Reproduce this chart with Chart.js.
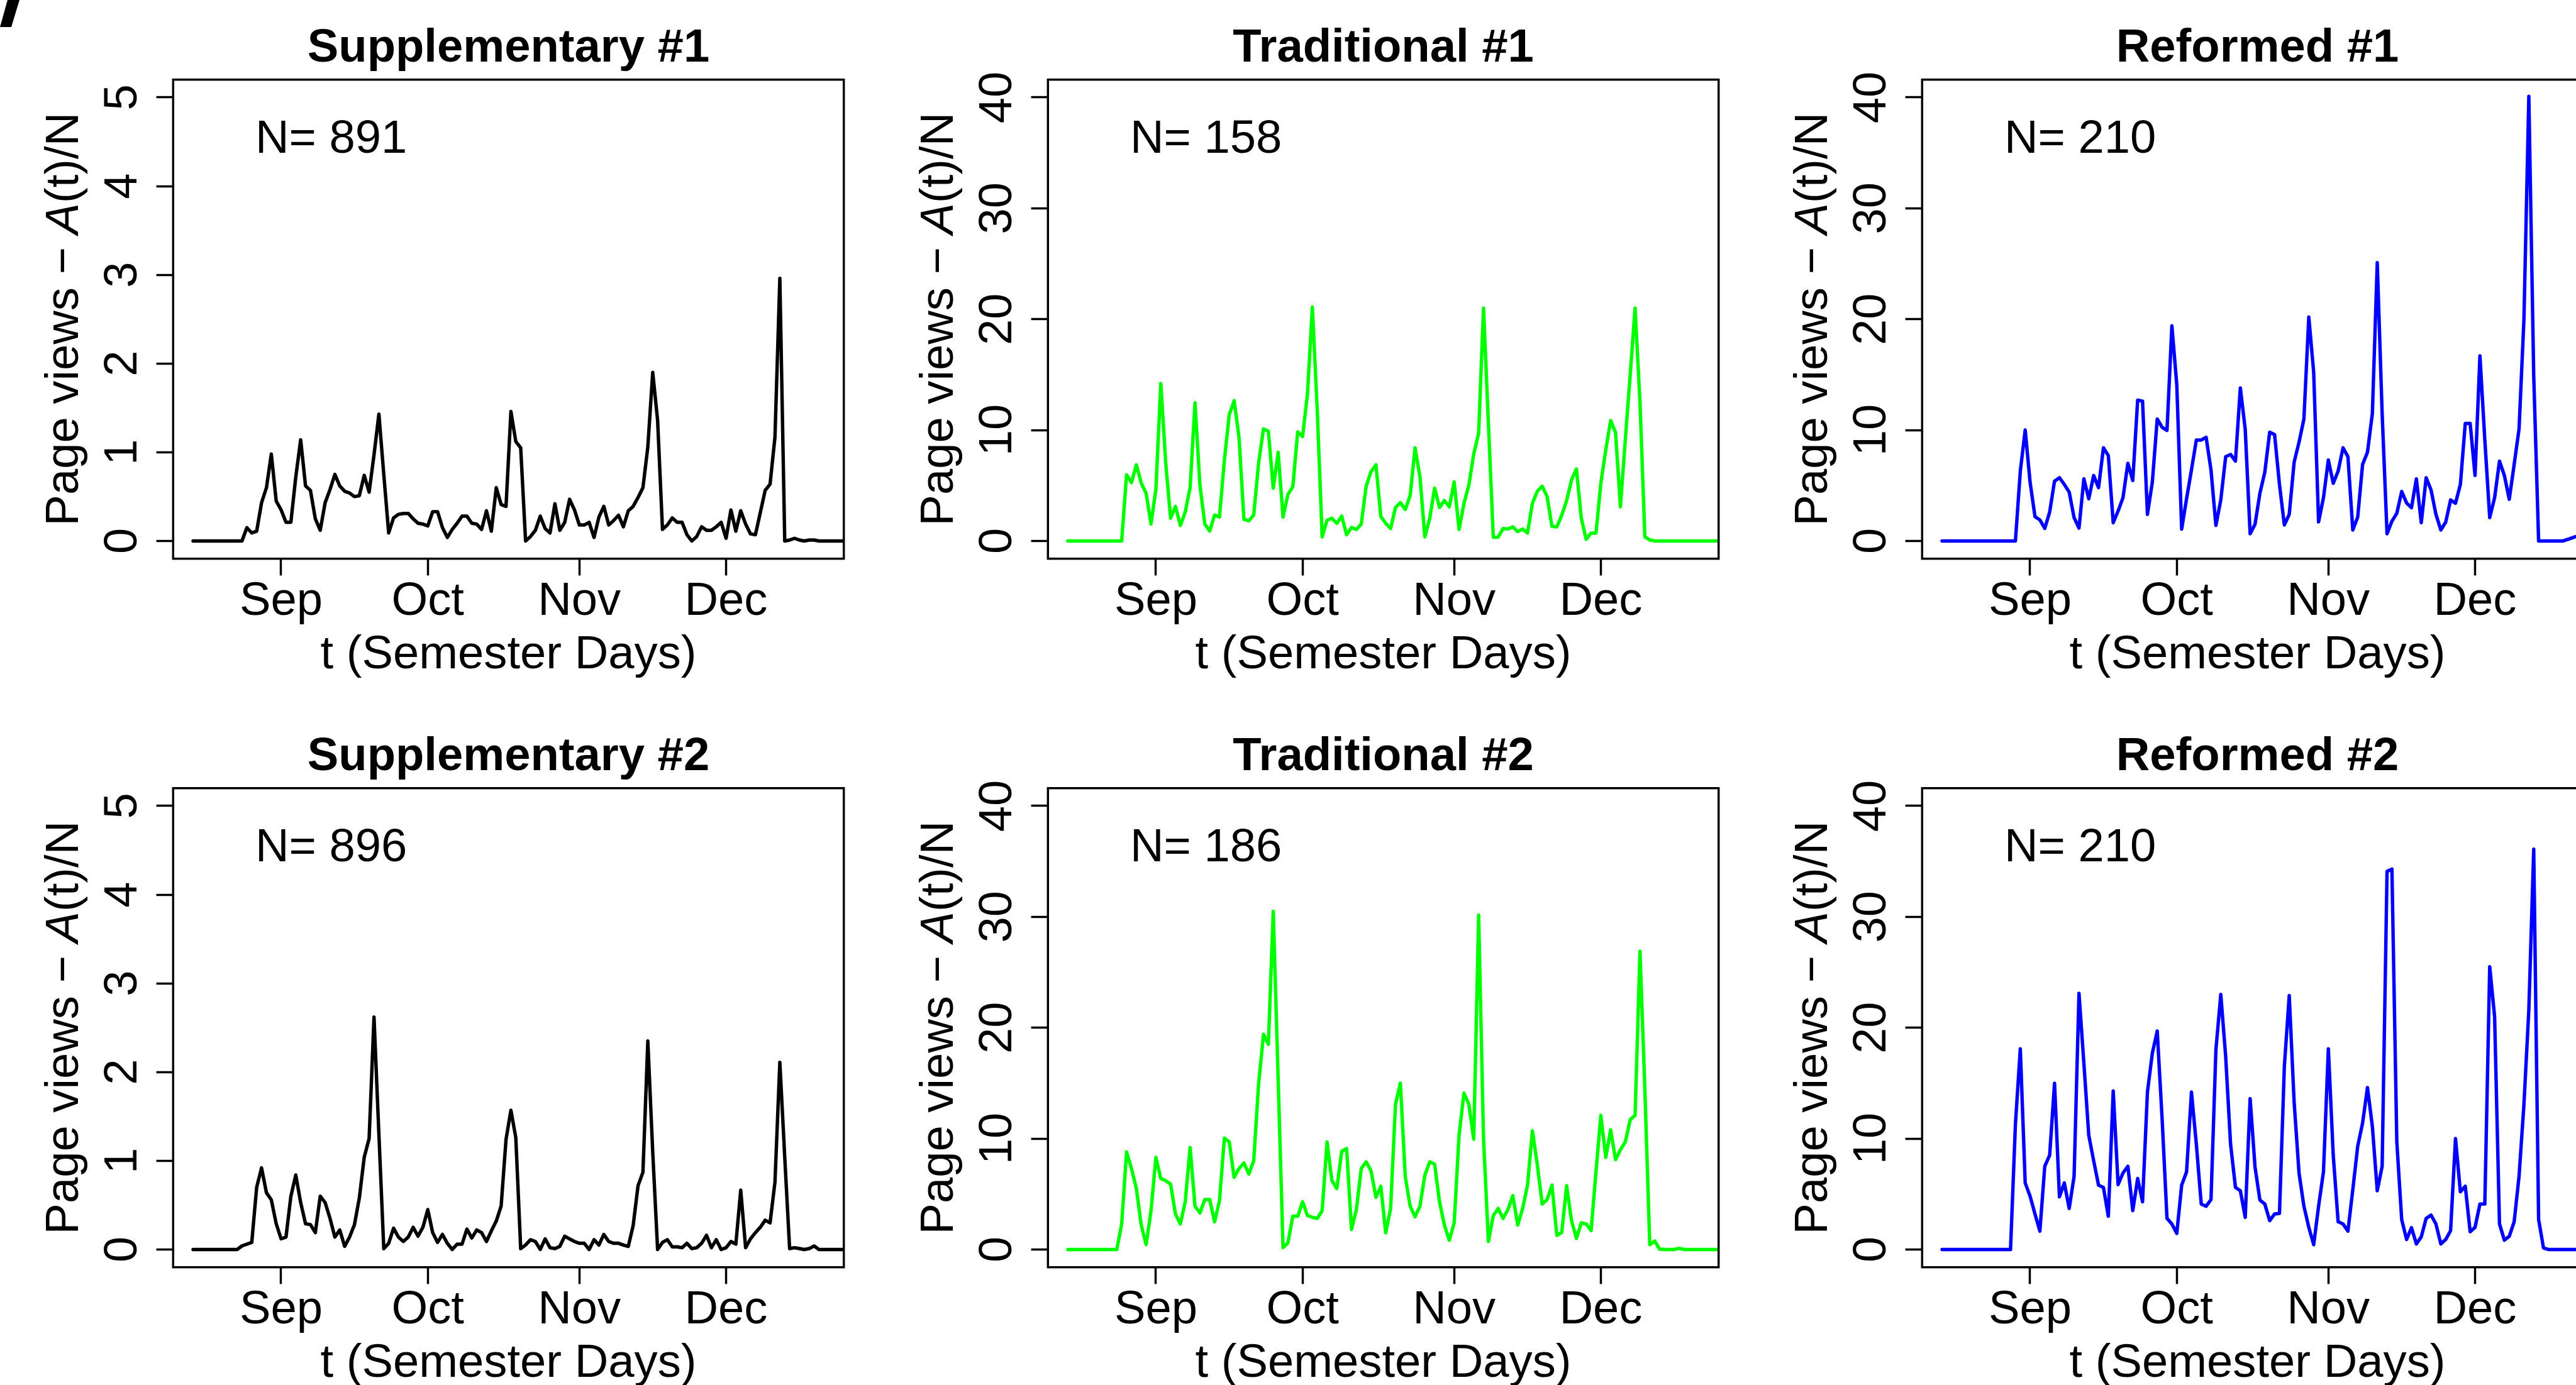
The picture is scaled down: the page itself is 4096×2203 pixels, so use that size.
<!DOCTYPE html>
<html>
<head>
<meta charset="utf-8">
<script src="https://cdn.jsdelivr.net/npm/chart.js@4.4.0/dist/chart.umd.min.js"></script>
<style>
  html, body { margin: 0; padding: 0; background: #fff; overflow: hidden; }
  body { width: 4096px; height: 2203px; position: relative; }
  canvas { position: absolute; }
  #corner { position: absolute; left: 0; top: 0; width: 32px; height: 43px; background: #000;
            clip-path: polygon(12px 0, 31px 0, 18px 43px, 0 43px); }
</style>
</head>
<body>
<div id="corner"></div>
<canvas id="p0"></canvas>
<canvas id="p1"></canvas>
<canvas id="p2"></canvas>
<canvas id="p3"></canvas>
<canvas id="p4"></canvas>
<canvas id="p5"></canvas>
<script>
// days counted from 1 Sep; first value is 14 Aug
const firstDay = -18;
const monthTicks = [0, 30, 61, 91];
const monthLabels = ['Sep', 'Oct', 'Nov', 'Dec'];
const ticksSmall = [0, 1, 2, 3, 4, 5];
const ticksLarge = [0, 10, 20, 30, 40];

const titles = ['Supplementary #1', 'Traditional #1', 'Reformed #1',
                'Supplementary #2', 'Traditional #2', 'Reformed #2'];
const nStudents = [891, 158, 210, 896, 186, 210];

const supp1 = [
  0, 0, 0, 0, 0, 0, 0, 0, 0, 0,
  0, 0.15, 0.09, 0.11, 0.43, 0.60, 0.98, 0.45, 0.35, 0.21,
  0.21, 0.72, 1.14, 0.62, 0.57, 0.25, 0.12, 0.43, 0.58, 0.75,
  0.62, 0.56, 0.54, 0.50, 0.51, 0.74, 0.55, 0.97, 1.43, 0.75,
  0.09, 0.26, 0.30, 0.31, 0.31, 0.25, 0.20, 0.19, 0.17, 0.33,
  0.33, 0.15, 0.04, 0.13, 0.20, 0.28, 0.28, 0.20, 0.19, 0.13,
  0.34, 0.11, 0.60, 0.41, 0.39, 1.46, 1.12, 1.05, 0, 0.05,
  0.12, 0.28, 0.14, 0.09, 0.42, 0.12, 0.21, 0.47, 0.35, 0.18,
  0.18, 0.21, 0.04, 0.27, 0.39, 0.18, 0.23, 0.29, 0.16, 0.34,
  0.39, 0.49, 0.60, 1.06, 1.90, 1.36, 0.13, 0.18, 0.26, 0.21,
  0.21, 0.07, 0, 0.05, 0.16, 0.12, 0.12, 0.16, 0.21, 0.03,
  0.35, 0.11, 0.34, 0.19, 0.08, 0.07, 0.32, 0.57, 0.64, 1.17,
  2.96, 0, 0.01, 0.03, 0.01, 0, 0.01, 0.01, 0, 0,
  0, 0, 0, 0, 0
];

const trad1 = [
  0, 0, 0, 0, 0, 0, 0, 0, 0, 0,
  0, 0, 5.97, 5.26, 6.87, 5.22, 4.29, 1.53, 4.66, 14.2,
  7.09, 2.05, 3.12, 1.40, 2.61, 4.85, 12.46, 5.04, 1.53, 0.90,
  2.33, 2.15, 7.28, 11.38, 12.65, 9.33, 1.96, 1.81, 2.33, 7.0,
  10.11, 9.89, 4.76, 7.99, 2.15, 4.20, 4.89, 9.83, 9.42, 13.25,
  21.1, 11.75, 0.37, 1.87, 2.05, 1.59, 2.24, 0.56, 1.21, 1.03,
  1.53, 4.94, 6.25, 6.87, 2.20, 1.59, 1.12, 3.02, 3.45, 2.84,
  4.10, 8.40, 5.78, 0.37, 2.05, 4.76, 3.02, 3.64, 3.08, 5.32,
  1.03, 3.36, 5.04, 7.84, 9.70, 21.0, 10.6, 0.34, 0.34, 1.12,
  1.08, 1.27, 0.84, 1.08, 0.71, 3.40, 4.48, 4.94, 4.01, 1.31,
  1.27, 2.33, 3.64, 5.50, 6.49, 2.05, 0.15, 0.71, 0.71, 5.22,
  8.21, 10.86, 9.79, 3.08, 9.14, 15.0, 21.0, 12.5, 0.37, 0.09,
  0, 0, 0, 0, 0, 0, 0, 0, 0, 0,
  0, 0, 0, 0, 0
];

const ref1 = [
  0, 0, 0, 0, 0, 0, 0, 0, 0, 0,
  0, 0, 0, 0, 0, 0, 6.3, 10.0, 5.3, 2.2,
  1.9, 1.13, 2.6, 5.4, 5.7, 5.1, 4.4, 2.1, 1.16, 5.6,
  3.8, 5.9, 4.8, 8.4, 7.7, 1.64, 2.7, 3.9, 7.0, 5.45,
  12.7, 12.6, 2.4, 5.3, 11.0, 10.25, 9.97, 19.4, 14.1, 1.07,
  3.8, 6.4, 9.1, 9.1, 9.35, 6.4, 1.4, 3.7, 7.6, 7.8,
  7.2, 13.8, 10.06, 0.65, 1.5, 4.3, 6.2, 9.8, 9.6, 5.1,
  1.44, 2.4, 7.1, 8.9, 11.0, 20.2, 15.2, 1.72, 3.9, 7.3,
  5.2, 6.3, 8.4, 7.6, 0.99, 2.15, 6.9, 8.0, 11.5, 25.1,
  11.5, 0.65, 1.78, 2.5, 4.46, 3.42, 3.0, 5.6, 1.64, 5.7,
  4.6, 2.4, 0.99, 1.7, 3.7, 3.4, 5.1, 10.6, 10.6, 5.9,
  16.7, 9.1, 2.1, 3.9, 7.2, 5.9, 3.76, 6.9, 10.1, 20.0,
  40.1, 14.9, 0, 0, 0, 0, 0, 0, 0.15, 0.3,
  0.45
];

const supp2 = [
  0, 0, 0, 0, 0, 0, 0, 0, 0, 0,
  0.04, 0.06, 0.08, 0.70, 0.92, 0.64, 0.56, 0.29, 0.12, 0.14,
  0.60, 0.84, 0.53, 0.29, 0.28, 0.19, 0.60, 0.53, 0.35, 0.14,
  0.22, 0.035, 0.14, 0.28, 0.58, 1.04, 1.25, 2.62, 1.3, 0.01,
  0.07, 0.24, 0.14, 0.09, 0.14, 0.25, 0.15, 0.25, 0.45, 0.19,
  0.08, 0.17, 0.07, 0, 0.06, 0.06, 0.23, 0.13, 0.22, 0.19,
  0.09, 0.21, 0.32, 0.49, 1.24, 1.57, 1.26, 0.01, 0.05, 0.11,
  0.09, 0, 0.12, 0.02, 0.01, 0.035, 0.15, 0.12, 0.09, 0.07,
  0.07, 0, 0.11, 0.05, 0.17, 0.09, 0.07, 0.07, 0.05, 0.035,
  0.27, 0.72, 0.87, 2.35, 1.1, 0, 0.08, 0.11, 0.03, 0.03,
  0.02, 0.07, 0.01, 0.02, 0.07, 0.16, 0.02, 0.11, 0, 0.02,
  0.09, 0.06, 0.67, 0.02, 0.12, 0.19, 0.25, 0.33, 0.30, 0.76,
  2.11, 1.04, 0.01, 0.02, 0.01, 0, 0.01, 0.04, 0, 0,
  0, 0, 0, 0, 0
];

const trad2 = [
  0, 0, 0, 0, 0, 0, 0, 0, 0, 0,
  0, 2.3, 8.8, 7.3, 5.5, 2.2, 0.44, 3.5, 8.3, 6.4,
  6.2, 5.9, 3.2, 2.3, 4.3, 9.2, 3.9, 3.3, 4.5, 4.5,
  2.5, 4.4, 10.05, 9.7, 6.5, 7.3, 7.8, 6.8, 8.0, 14.9,
  19.4, 18.5, 30.5, 15.4, 0.17, 0.6, 3.0, 3.0, 4.3, 3.06,
  2.9, 2.8, 3.5, 9.7, 6.2, 5.5, 8.85, 9.1, 1.8, 3.6,
  7.3, 7.9, 7.1, 4.7, 5.7, 1.5, 3.7, 13.1, 15.0, 6.55,
  3.9, 2.95, 3.9, 6.7, 7.9, 7.7, 4.3, 2.2, 0.83, 2.4,
  10.3, 14.1, 13.1, 9.95, 30.15, 10.0, 0.72, 3.06, 3.7, 2.8,
  3.6, 4.85, 2.2, 3.7, 5.8, 10.7, 7.65, 4.1, 4.5, 5.8,
  1.27, 1.53, 5.75, 2.6, 1.0, 2.4, 2.3, 1.7, 7.0, 12.1,
  8.3, 10.8, 8.1, 9.0, 9.7, 11.7, 12.1, 26.9, 14.4, 0.44,
  0.76, 0.04, 0, 0, 0, 0.1, 0, 0, 0, 0,
  0, 0, 0, 0, 0
];

const ref2 = [
  0, 0, 0, 0, 0, 0, 0, 0, 0, 0,
  0, 0, 0, 0, 0, 11.3, 18.1, 6.0, 4.8, 3.2,
  1.65, 7.5, 8.5, 15.0, 4.75, 6.0, 3.7, 6.6, 23.1, 16.8,
  10.3, 8.0, 5.8, 5.6, 3.0, 14.3, 5.85, 6.9, 7.5, 3.5,
  6.4, 4.3, 14.2, 17.7, 19.7, 11.8, 2.8, 2.3, 1.45, 5.8,
  7.0, 14.2, 9.5, 4.1, 3.9, 4.5, 18.0, 23.0, 17.4, 9.5,
  5.6, 5.3, 2.9, 13.6, 7.45, 4.45, 4.1, 2.6, 3.2, 3.25,
  16.5, 22.9, 13.3, 6.9, 3.9, 2.0, 0.43, 3.9, 7.0, 18.1,
  8.5, 2.5, 2.3, 1.65, 5.4, 9.3, 11.4, 14.6, 11.1, 5.3,
  7.5, 34.1, 34.3, 9.7, 2.7, 0.9, 1.96, 0.5, 1.14, 2.8,
  3.1, 2.3, 0.5, 0.9, 1.7, 10.0, 5.2, 5.7, 1.6, 2.0,
  4.1, 4.1, 25.5, 21.0, 2.3, 0.84, 1.2, 2.5, 6.6, 13.1,
  21.6, 36.1, 2.7, 0.13, 0, 0, 0, 0, 0, 0,
  0, 0, 0, 0, 0
];

const series = [supp1, trad1, ref1, supp2, trad2, ref2];
const lineColors = ['#000000', '#00ff00', '#0000ff', '#000000', '#00ff00', '#0000ff'];

// layout, measured on the 4139 px wide original, scaled down to the window
const S = 4096 / 4139;
const boxLeft0 = 278.4, colStep = 1405, boxW = 1077.6;
const boxTop0 = 128.5, rowStep = 1138.4, boxH = 770;
const padL = 260, padT = 128, padR = 50, padB = 212;
const FONT = '"Liberation Sans", Arial, Helvetica, sans-serif';

const panelText = {
  id: 'panelText',
  afterDraw(chart, args, o) {
    const ctx = chart.ctx;
    const a = chart.chartArea;
    const xs = chart.scales.x, ys = chart.scales.y;
    const f = (75 * S).toFixed(2) + 'px ' + FONT;
    const cx = (a.left + a.right) / 2, cy = (a.top + a.bottom) / 2;
    ctx.save();
    ctx.strokeStyle = '#000';
    ctx.lineWidth = 3.5 * S;
    ctx.strokeRect(a.left, a.top, a.right - a.left, a.bottom - a.top);
    ctx.fillStyle = '#000';
    ctx.textBaseline = 'alphabetic';

    ctx.font = 'bold ' + f;
    ctx.textAlign = 'center';
    ctx.fillText(o.title, cx, a.top - 29 * S);

    ctx.font = f;
    ctx.textAlign = 'left';
    ctx.fillText('N= ' + o.n, a.left + 132 * S, a.top + 117.5 * S);

    ctx.textAlign = 'center';
    xs.ticks.forEach(t => {
      const i = monthTicks.indexOf(t.value);
      ctx.fillText(monthLabels[i], xs.getPixelForValue(t.value), a.bottom + 90 * S);
    });
    ctx.fillText('t (Semester Days)', cx, a.bottom + 176.5 * S);

    ys.ticks.forEach(t => {
      ctx.save();
      ctx.translate(a.left - 59.4 * S, ys.getPixelForValue(t.value));
      ctx.rotate(-Math.PI / 2);
      ctx.fillText(String(t.value), 0, 0);
      ctx.restore();
    });

    // y label with italic A
    const p1 = 'Page views \u2212 ', p2 = 'A', p3 = '(t)/N';
    ctx.font = f;
    const w1 = ctx.measureText(p1).width, w3 = ctx.measureText(p3).width;
    ctx.font = 'italic ' + f;
    const w2 = ctx.measureText(p2).width;
    ctx.translate(a.left - 153 * S, cy);
    ctx.rotate(-Math.PI / 2);
    ctx.textAlign = 'left';
    let x = -(w1 + w2 + w3) / 2;
    ctx.font = f; ctx.fillText(p1, x, 0); x += w1;
    ctx.font = 'italic ' + f; ctx.fillText(p2, x, 0); x += w2;
    ctx.font = f; ctx.fillText(p3, x, 0);
    ctx.restore();
  }
};

const W = Math.round((padL + boxW + padR) * S);
const H = Math.round((padT + boxH + padB) * S);

series.forEach((vals, k) => {
  const col = k % 3, row = Math.floor(k / 3);
  const big = col > 0;
  const yTicks = big ? ticksLarge : ticksSmall;
  const yMax = big ? 40 : 5;
  const cv = document.getElementById('p' + k);
  cv.width = W; cv.height = H;
  cv.style.width = W + 'px'; cv.style.height = H + 'px';
  cv.style.left = ((boxLeft0 + col * colStep - padL) * S) + 'px';
  cv.style.top = ((boxTop0 + row * rowStep - padT) * S) + 'px';

  const tickGrid = {
    display: true, drawOnChartArea: false, drawTicks: true,
    tickLength: 27 * S, tickWidth: 3.5 * S, tickColor: '#000'
  };

  new Chart(cv.getContext('2d'), {
    type: 'line',
    data: {
      datasets: [{
        data: vals.map((v, i) => ({ x: firstDay + i, y: v })),
        borderColor: lineColors[k],
        borderWidth: 5.5 * S,
        pointRadius: 0,
        tension: 0,
        fill: false,
        borderJoinStyle: 'round',
        borderCapStyle: 'round',
        clip: 0
      }]
    },
    options: {
      responsive: false,
      animation: false,
      devicePixelRatio: 1,
      layout: { padding: { left: 0, top: padT * S, right: W - (padL + boxW) * S, bottom: 0 } },
      plugins: {
        legend: { display: false },
        tooltip: { enabled: false },
        panelText: { title: titles[k], n: nStudents[k] }
      },
      scales: {
        x: {
          type: 'linear',
          min: -22.08, max: 115.08,
          afterBuildTicks: s => { s.ticks = monthTicks.map(v => ({ value: v })); },
          afterFit: s => { s.height = H - (padT + boxH) * S; },
          ticks: { display: false },
          grid: tickGrid,
          border: { display: false }
        },
        y: {
          type: 'linear',
          min: -0.04 * yMax, max: 1.04 * yMax,
          afterBuildTicks: s => { s.ticks = yTicks.map(v => ({ value: v })); },
          afterFit: s => { s.width = padL * S; },
          ticks: { display: false },
          grid: tickGrid,
          border: { display: false }
        }
      }
    },
    plugins: [panelText]
  });
});
</script>
</body>
</html>
